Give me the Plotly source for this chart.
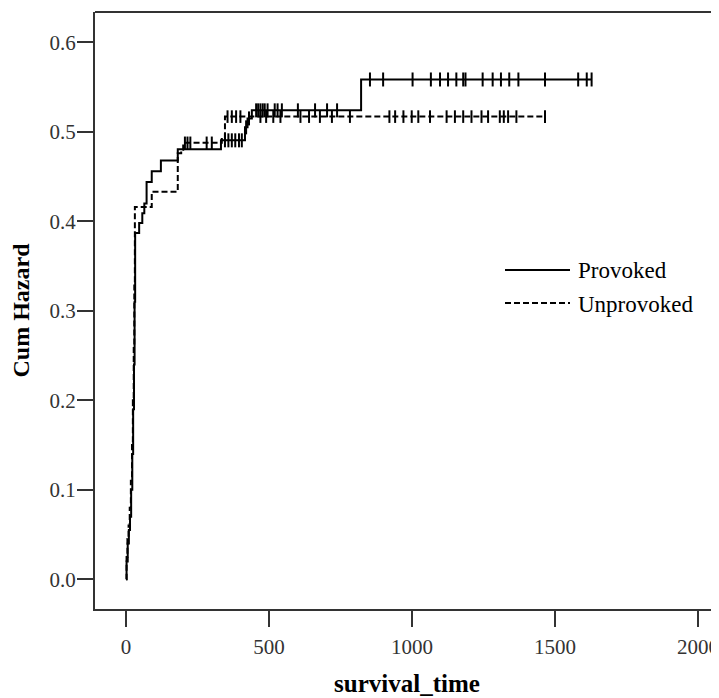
import numpy as np
import plotly.graph_objects as go

# ---- data ----
prov_times = [0, 2, 6, 10, 14, 18, 22, 25, 28, 30, 32, 46, 57, 64, 72, 90, 122, 181, 332, 416, 425, 440, 822, 1628]
prov_haz = [0, 0.02, 0.04, 0.055, 0.07, 0.10, 0.14, 0.19, 0.24, 0.31, 0.387, 0.398, 0.409, 0.42, 0.444,
            0.456, 0.468, 0.4805, 0.4905, 0.505, 0.515, 0.524, 0.5585, 0.5585]
prov_censor = [346, 358, 370, 382, 395, 405, 420, 430, 455, 462, 470, 478, 485, 495, 520, 530, 545,
               601, 661, 703, 738, 853, 899, 1002, 1066, 1098, 1126, 1155, 1179, 1187, 1247, 1282,
               1311, 1340, 1372, 1465, 1581, 1611, 1628]

unprov_times = [0, 2, 5, 9, 13, 17, 21, 24, 27, 29, 31, 90, 181, 193, 200, 335, 346, 1465]
unprov_haz = [0, 0.025, 0.045, 0.06, 0.08, 0.11, 0.15, 0.20, 0.26, 0.33, 0.416, 0.433, 0.476, 0.48,
              0.4877, 0.493, 0.517, 0.517]
unprov_censor = [206, 215, 225, 282, 300, 355, 370, 385, 400, 470, 490, 515, 540, 610, 640, 678, 720,
                 783, 921, 941, 970, 999, 1022, 1063, 1121, 1150, 1179, 1208, 1243, 1266, 1307, 1321,
                 1336, 1365, 1465]

x_ticks = [0, 500, 1000, 1500, 2000]
y_ticks = [0.0, 0.1, 0.2, 0.3, 0.4, 0.5, 0.6]
series_names = ["Provoked", "Unprovoked"]


def step_at(times, haz, t):
    idx = np.searchsorted(np.asarray(times), t, side="right") - 1
    return [haz[i] for i in idx]


fig = go.Figure()
fig.add_trace(go.Scatter(x=prov_times, y=prov_haz, mode="lines", line_shape="hv",
                         line=dict(color="black", width=2), name=series_names[0], showlegend=False))
fig.add_trace(go.Scatter(x=unprov_times, y=unprov_haz, mode="lines", line_shape="hv",
                         line=dict(color="black", width=2, dash="6px,3px"), name=series_names[1],
                         showlegend=False))
fig.add_trace(go.Scatter(x=prov_censor, y=step_at(prov_times, prov_haz, prov_censor), mode="markers",
                         marker=dict(symbol="line-ns", size=10, line=dict(color="black", width=2)),
                         showlegend=False))
fig.add_trace(go.Scatter(x=unprov_censor, y=step_at(unprov_times, unprov_haz, unprov_censor),
                         mode="markers",
                         marker=dict(symbol="line-ns", size=9, line=dict(color="black", width=2)),
                         showlegend=False))

serif = "Liberation Serif"
BODY = 8  # default page margin around the plot div
W, H = 719 - BODY, 698 - BODY
ml, mr, mt, mb = 95 - BODY, 0, 12 - BODY, H - (609 - BODY)

fig.update_layout(
    width=W, height=H,
    margin=dict(l=ml, r=mr, t=mt, b=mb, autoexpand=False),
    paper_bgcolor="white", plot_bgcolor="white",
    showlegend=False,
    font=dict(family=serif, color="black"),
)
fig.update_xaxes(
    range=[-108.4, 2073.4], tickvals=x_ticks, ticktext=[str(v) for v in x_ticks],
    showgrid=False, zeroline=False, showline=True, linecolor="#333", linewidth=2,
    ticks="outside", ticklen=16, tickwidth=2, tickcolor="#333",
    tickfont=dict(family=serif, size=21, color="#333"), ticklabelstandoff=2,
    ticklabeloverflow="allow",
    title=dict(text="<b>survival_time</b>", font=dict(family=serif, size=25, color="black"), standoff=16),
    automargin=False,
)
fig.update_yaxes(
    range=[-0.0332, 0.6339], tickvals=y_ticks, ticktext=[f"{v:.1f}" for v in y_ticks],
    showgrid=False, zeroline=False, showline=True, linecolor="#333", linewidth=2,
    ticks="outside", ticklen=16, tickwidth=2, tickcolor="#333",
    tickfont=dict(family=serif, size=21, color="#333"), ticklabelstandoff=-3,
    title=dict(text="<b>Cum Hazard</b>", font=dict(family=serif, size=24, color="black"), standoff=16),
    automargin=False,
)

# top border of the plot frame
fig.add_shape(type="line", xref="paper", yref="paper", x0=0, x1=1, y0=1, y1=1,
              line=dict(color="#333", width=2))

# custom legend (positions given in page pixels)
pw, ph = W - ml - mr, H - mt - mb


def px_to_paper(xp, yp):
    return (xp - BODY - ml) / pw, 1 - (yp - BODY - mt) / ph


legend_rows = [(270, "solid"), (303, "6px,3px")]
for (yp, dash), name in zip(legend_rows, series_names):
    x0, y0 = px_to_paper(505, yp)
    x1, _ = px_to_paper(570, yp)
    fig.add_shape(type="line", xref="paper", yref="paper", x0=x0, x1=x1, y0=y0, y1=y0,
                  line=dict(color="black", width=2, dash=dash))
    xt, yt = px_to_paper(576, yp + 1)
    fig.add_annotation(xref="paper", yref="paper", x=xt, y=yt, text=name, showarrow=False,
                       xanchor="left", yanchor="middle", font=dict(family=serif, size=23, color="black"))

fig.write_html("out.html")
